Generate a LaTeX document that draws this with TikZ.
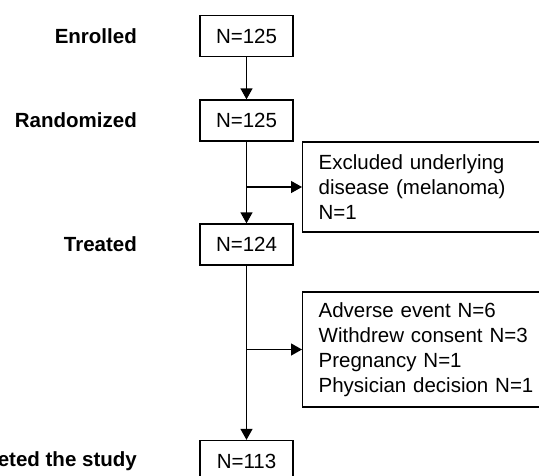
\documentclass[tikz,border=0pt]{standalone}
\usepackage{fontspec}
\setmainfont{Liberation Sans}
\usetikzlibrary{arrows.meta}
\begin{document}
\begin{tikzpicture}[x=1pt,y=-1pt,
  every node/.style={font=\fontsize{20.5}{25}\selectfont},
  nbox/.style={draw, line width=1.3pt, minimum width=93pt, minimum height=41pt, inner sep=0pt},
  sidebox/.style={draw, line width=1.3pt, anchor=west, inner xsep=16pt, inner ysep=0pt, text width=230pt, align=left},
  lbl/.style={anchor=east, font=\fontsize{20.5}{25}\selectfont\bfseries, inner sep=0pt},
  arr/.style={line width=1.3pt, -{Triangle[length=11pt,width=12pt]}}]
\useasboundingbox (0,0) rectangle (539,475);
\node[nbox] (b1) at (246.5,36) {N=125};
\node[nbox] (b2) at (246.5,120.5) {N=125};
\node[nbox] (b3) at (246.5,244.5) {N=124};
\node[nbox] (b4) at (246.5,461) {N=113};
\node[lbl] (l1) at (137,36) {Enrolled};
\node[lbl] (l2) at (137,120.5) {Randomized};
\node[lbl] (l3) at (137,244.5) {Treated};
\node[lbl] (l4) at (137,461) {Completed the study};
\node[sidebox, minimum height=90pt] (ex) at (302,187) {Excluded underlying\\disease (melanoma)\\N=1};
\node[sidebox, minimum height=115pt] (ad) at (302,349.5) {Adverse event N=6\\Withdrew consent N=3\\Pregnancy N=1\\Physician decision N=1};
\coordinate (j1) at (246.5,187);
\coordinate (j2) at (246.5,349.5);
\draw[arr] (b1) -- (b2);
\draw[arr] (b2) -- (b3);
\draw[arr] (b3) -- (b4);
\draw[arr] (j1) -- (ex.west);
\draw[arr] (j2) -- (ad.west);
\end{tikzpicture}
\end{document}
